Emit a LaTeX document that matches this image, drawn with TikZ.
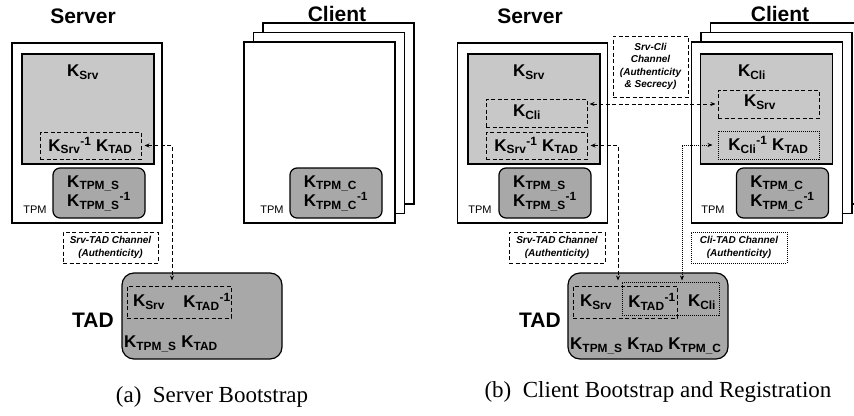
\documentclass[tikz,border=0pt]{standalone}
\usepackage{fontspec}
\setmainfont{Liberation Serif}
\setsansfont{Liberation Sans}
\usetikzlibrary{arrows.meta}
\definecolor{memgray}{RGB}{200,200,200}
\definecolor{tpmgray}{RGB}{168,168,168}
\newcommand\kk[1]{K\textsubscript{#1}}
\newcommand\inv{\textsuperscript{-1}}

\begin{document}
\begin{tikzpicture}[x=1pt,y=-1pt,
  every node/.style={inner sep=0pt, font=\sffamily\bfseries},
  host/.style={draw, fill=white, line width=1.2pt, minimum width=150pt, minimum height=180pt},
  memory/.style={draw, fill=memgray, line width=1.2pt, minimum width=132pt, minimum height=110pt},
  tpmbox/.style={draw, fill=tpmgray, line width=1.2pt, rounded corners=7pt, minimum width=92pt, minimum height=50pt, keys},
  tadbox/.style={draw, fill=tpmgray, line width=1.2pt, rounded corners=12pt, minimum width=160pt, minimum height=86pt},
  keys/.style={font=\sffamily\bfseries\fontsize{17}{15}\selectfont, align=left},
  title/.style={font=\sffamily\bfseries\fontsize{21}{21}\selectfont},
  tpmlabel/.style={font=\sffamily\fontsize{11}{11}\selectfont},
  dashbox/.style={draw, dash pattern=on 4pt off 2.5pt, line width=1pt},
  dotbox/.style={draw, dash pattern=on 1pt off 1pt, line width=1pt},
  chan/.style={font=\sffamily\bfseries\itshape\fontsize{10}{12.5}\selectfont, align=center},
  dasharrow/.style={dash pattern=on 4pt off 2.5pt, line width=1pt, {Stealth[length=5pt,width=4pt]}-{Stealth[length=5pt,width=4pt]}},
  dotarrow/.style={dash pattern=on 1pt off 1pt, line width=1pt, {Stealth[length=5pt,width=4pt]}-{Stealth[length=5pt,width=4pt]}},
  caption/.style={font=\rmfamily\fontsize{23}{23}\selectfont}]
\useasboundingbox (0,0) rectangle (854,415);
\clip (0,0) rectangle (854,415);

% (a) server bootstrap
\node[title] (srvAt) at (83,16) {Server};
\node[host] (srvA) at (87,133) {};
\node[memory] (memA) at (88,109) {};
\node[keys] (ksrvA) at (83,72) {\kk{Srv}};
\node[dashbox, keys, minimum width=101pt, minimum height=27pt] (skA) at (90.5,145.5) {\kk{Srv}\inv\ \kk{TAD}};
\node[tpmbox] (tpmA) at (99,193) {\kk{TPM\_S}\\\kk{TPM\_S}\inv};
\node[tpmlabel] (tpmlA) at (35,210) {TPM};

\node[title] (cliAt) at (337,14) {Client};
\foreach \i/\d in {3/19,2/9.5}
  \node[host, minimum width=151pt, minimum height=181pt] (cliA\i) at (319.5+\d,132.5-\d) {};
\node[host, minimum width=151pt, minimum height=181pt] (cliA) at (319.5,132.5) {};
\node[tpmbox] (tpmcA) at (336,193) {\kk{TPM\_C}\\\kk{TPM\_C}\inv};
\node[tpmlabel] (tpmlcA) at (272,210) {TPM};

\node[dashbox, chan, minimum width=95pt, minimum height=31pt] (chA) at (110.5,247.5) {Srv-TAD Channel\\(Authenticity)};
\node[tadbox] (tadA) at (202,316) {};
\node[title] (tadlA) at (93,320) {TAD};
\node[dashbox, minimum width=104pt, minimum height=32pt] (tkA) at (179,302) {};
\node[keys] (tsrvA) at (149,302) {\kk{Srv}};
\node[keys] (ttadA) at (207,302) {\kk{TAD}\inv};
\node[keys, anchor=west] (tbotA) at (124,344) {\kk{TPM\_S} \kk{TAD}};

\coordinate (cA) at (172,146);
\draw[dasharrow, shorten <=3pt, shorten >=5pt] (skA.east) -| (cA |- tkA.north);

% (b) client bootstrap and registration
\node[title] (srvBt) at (530,16) {Server};
\node[host] (srvB) at (532.5,133) {};
\node[memory] (memB) at (534,109) {};
\node[keys] (ksrvB) at (529,72) {\kk{Srv}};
\node[dashbox, minimum width=101pt, minimum height=28pt] (kcliB) at (536.5,113) {};
\node[keys] (tcliB) at (527,112) {\kk{Cli}};
\node[dashbox, keys, minimum width=101pt, minimum height=27pt] (skB) at (536.5,145.5) {\kk{Srv}\inv\ \kk{TAD}};
\node[tpmbox] (tpmB) at (545,193) {\kk{TPM\_S}\\\kk{TPM\_S}\inv};
\node[tpmlabel] (tpmlB) at (480,210) {TPM};

\node[dashbox, chan, minimum width=75pt, minimum height=61pt] (chSC) at (650.5,66.5) {Srv-Cli\\Channel\\(Authenticity\\\& Secrecy)};

\node[title] (cliBt) at (780,14) {Client};
\foreach \i/\d in {3/19,2/9.5}
  \node[host, minimum width=151pt, minimum height=181pt] (cliB\i) at (767+\d,132.5-\d) {};
\node[host, minimum width=151pt, minimum height=181pt] (cliB) at (767,132.5) {};
\node[memory] (memC) at (766.5,109) {};
\node[keys] (kcliC) at (752,72) {\kk{Cli}};
\node[dashbox, minimum width=101pt, minimum height=28pt] (ksrvC) at (768.5,104) {};
\node[keys] (tsrvC) at (760,102) {\kk{Srv}};
\node[dotbox, keys, minimum width=101pt, minimum height=28pt] (dkC) at (768.5,145) {\kk{Cli}\inv\ \kk{TAD}};
\node[tpmbox] (tpmC) at (782.5,193) {\kk{TPM\_C}\\\kk{TPM\_C}\inv};
\node[tpmlabel] (tpmlC) at (713,210) {TPM};

\node[dashbox, chan, minimum width=96pt, minimum height=31pt] (chB) at (557,247.5) {Srv-TAD Channel\\(Authenticity)};
\node[dotbox, chan, minimum width=96pt, minimum height=31pt] (chC) at (739,247.5) {Cli-TAD Channel\\(Authenticity)};
\node[tadbox] (tadB) at (648,316) {};
\node[title] (tadlB) at (540,320) {TAD};
\node[dashbox, minimum width=104pt, minimum height=32pt] (tkB) at (625,302) {};
\node[dotbox, minimum width=97pt, minimum height=33pt] (tdB) at (670.5,298.5) {};
\node[keys] (tsrvB) at (596,302) {\kk{Srv}};
\node[keys] (ttadB) at (652,302) {\kk{TAD}\inv};
\node[keys] (tcliB2) at (702,302) {\kk{Cli}};
\node[keys, anchor=west] (tbotB) at (570,346) {\kk{TPM\_S} \kk{TAD} \kk{TPM\_C}};

\draw[dasharrow, shorten <=2pt, shorten >=2pt] (ksrvC.west -| kcliB.east) -- (ksrvC.west);
\coordinate (cB) at (618,146);
\draw[dasharrow, shorten <=3pt, shorten >=5pt] (skB.east) -| (cB |- tkB.north);
\coordinate (cC) at (682,145);
\draw[dotarrow, shorten <=5pt, shorten >=1pt] (dkC.west) -| (cC |- tdB.north);

% captions
\node[caption] (capA) at (212,397) {(a)\enspace Server Bootstrap};
\node[caption] (capB) at (658,392) {(b)\enspace Client Bootstrap and Registration};
\end{tikzpicture}
\end{document}
